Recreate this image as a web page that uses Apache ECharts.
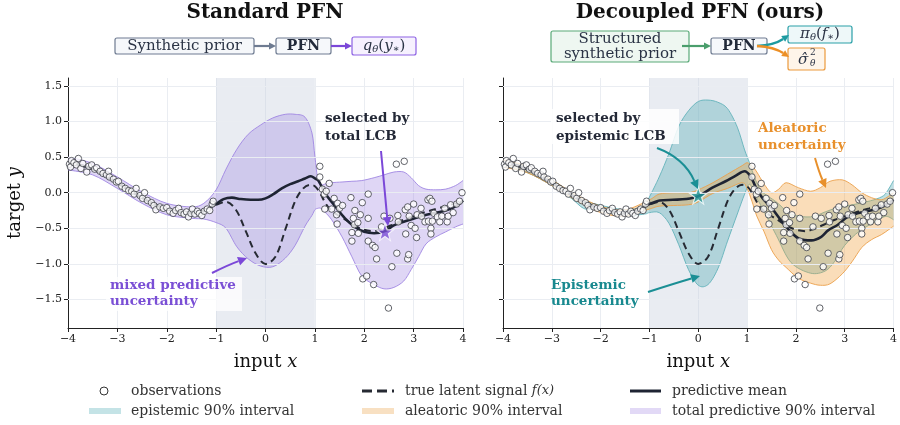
<!DOCTYPE html>
<html><head><meta charset="utf-8">
<script src="https://cdn.jsdelivr.net/npm/echarts@6/dist/echarts.min.js"></script>
<style>html,body{margin:0;padding:0;background:#fff}#c{width:900px;height:425px}</style>
</head><body><div id="c"></div>
<script>
// ---------------- data ----------------
const xTickValues = [-4, -3, -2, -1, 0, 1, 2, 3, 4];
const yTickValues = [-1.5, -1, -0.5, 0, 0.5, 1, 1.5];

const observations = [
[-3.97,0.40],[-3.95,0.36],[-3.93,0.45],[-3.88,0.42],[-3.83,0.39],[-3.79,0.48],[-3.74,0.34],[-3.70,0.41],[-3.62,0.29],[-3.58,0.37],
[-3.52,0.39],[-3.46,0.33],[-3.42,0.35],[-3.35,0.30],[-3.29,0.27],[-3.22,0.25],[-3.18,0.30],[-3.16,0.22],[-3.08,0.19],[-3.02,0.15],
[-2.98,0.16],[-2.91,0.09],[-2.84,0.06],[-2.77,0.03],[-2.71,0.02],[-2.66,-0.02],[-2.62,0.06],[-2.54,-0.04],[-2.49,-0.08],[-2.45,0.0],
[-2.39,-0.11],[-2.31,-0.14],[-2.26,-0.18],[-2.22,-0.24],[-2.14,-0.20],[-2.07,-0.22],[-2.00,-0.21],[-1.94,-0.26],[-1.87,-0.29],[-1.82,-0.25],
[-1.76,-0.22],[-1.71,-0.28],[-1.65,-0.30],[-1.60,-0.27],[-1.56,-0.34],[-1.51,-0.29],[-1.48,-0.23],[-1.43,-0.30],[-1.38,-0.26],[-1.34,-0.29],
[-1.29,-0.32],[-1.24,-0.26],[-1.18,-0.23],[-1.13,-0.25],[-1.08,-0.16],[-1.06,-0.12],
[1.10,0.37],[1.10,0.22],[1.15,0.05],[1.19,-0.02],[1.20,-0.23],[1.23,0.02],[1.29,0.13],[1.34,-0.23],[1.39,-0.08],[1.44,-0.31],
[1.46,-0.15],[1.45,-0.44],[1.50,-0.22],[1.56,-0.18],[1.73,-0.07],[1.75,-0.56],[1.75,-0.68],[1.78,-0.36],[1.81,-0.25],[1.80,-0.45],
[1.87,-0.42],[1.88,-0.57],[1.92,-0.31],[1.96,-0.14],[1.97,-1.21],[2.05,-1.17],[2.08,-0.02],[2.08,-0.36],[2.08,-0.68],[2.17,-0.74],
[2.22,-0.77],[2.19,-1.29],[2.25,-0.93],[2.35,-0.48],[2.40,-0.33],[2.49,-1.62],[2.52,-0.36],[2.56,-1.04],[2.65,0.40],[2.81,0.44],
[2.66,-0.85],[2.68,-0.32],[2.69,-0.41],[2.83,-0.24],[2.88,-0.20],[2.84,-0.58],[2.88,-0.93],[2.90,-0.87],[2.91,-0.33],[2.95,-0.46],
[3.00,-0.16],[3.03,-0.50],[3.06,-0.63],[3.07,-0.31],[3.15,-0.22],[3.16,-0.33],[3.23,-0.41],[3.29,-0.10],[3.30,-0.40],[3.33,-0.08],
[3.35,-0.50],[3.35,-0.58],[3.37,-0.12],[3.38,-0.40],[3.41,-0.29],[3.48,-0.34],[3.53,-0.41],[3.57,-0.33],[3.63,-0.22],[3.68,-0.41],
[3.70,-0.33],[3.75,-0.17],[3.80,-0.28],[3.87,-0.16],[3.93,-0.12],[3.98,0.0]
];

const trueSignal = [
[-4.0,0.41],[-3.75,0.39],[-3.5,0.33],[-3.25,0.24],[-3.0,0.14],[-2.75,0.03],[-2.5,-0.07],[-2.25,-0.16],[-2.0,-0.23],[-1.75,-0.27],
[-1.5,-0.28],[-1.25,-0.25],[-1.0,-0.17],[-0.8,-0.13],[-0.6,-0.24],[-0.4,-0.54],[-0.2,-0.85],[0.0,-1.0],[0.2,-0.9],[0.4,-0.52],
[0.6,-0.12],[0.75,0.05],[0.9,0.11],[1.0,0.09],[1.1,0.0],[1.2,-0.13],[1.3,-0.23],[1.45,-0.31],[1.6,-0.37],[1.8,-0.46],
[2.0,-0.52],[2.2,-0.54],[2.4,-0.50],[2.6,-0.44],[2.8,-0.38],[3.0,-0.33],[3.25,-0.27],[3.5,-0.22],[3.75,-0.17],[4.0,-0.12]
];

const meanStandard = [
[-4.0,0.41],[-3.75,0.39],[-3.5,0.33],[-3.25,0.24],[-3.0,0.14],[-2.75,0.03],[-2.5,-0.07],[-2.25,-0.16],[-2.0,-0.23],[-1.75,-0.27],
[-1.5,-0.28],[-1.25,-0.25],[-1.0,-0.16],[-0.85,-0.09],[-0.68,-0.07],[-0.5,-0.09],[-0.3,-0.10],[-0.15,-0.10],[0.0,-0.08],[0.16,-0.02],
[0.33,0.06],[0.5,0.12],[0.66,0.16],[0.8,0.20],[0.92,0.23],[1.0,0.20],[1.07,0.17],[1.2,0.0],[1.41,-0.19],[1.61,-0.36],
[1.81,-0.48],[2.0,-0.55],[2.2,-0.57],[2.42,-0.54],[2.6,-0.46],[2.93,-0.38],[3.26,-0.31],[3.6,-0.26],[3.8,-0.21],[3.94,-0.15],[4.0,-0.11]
];

const meanDecoupled = [
[-4.0,0.41],[-3.75,0.39],[-3.5,0.33],[-3.25,0.24],[-3.0,0.14],[-2.75,0.03],[-2.5,-0.07],[-2.25,-0.16],[-2.0,-0.23],[-1.75,-0.27],
[-1.5,-0.28],[-1.25,-0.25],[-1.0,-0.16],[-0.79,-0.11],[-0.52,-0.10],[-0.25,-0.09],[0.0,-0.05],[0.29,0.07],[0.56,0.16],[0.77,0.24],
[0.95,0.30],[1.07,0.23],[1.17,0.09],[1.31,-0.07],[1.51,-0.22],[1.71,-0.40],[1.91,-0.56],[2.08,-0.65],[2.32,-0.67],[2.52,-0.62],
[2.66,-0.53],[2.86,-0.45],[3.06,-0.34],[3.26,-0.29],[3.6,-0.24],[3.8,-0.19],[4.0,-0.10]
];

const totalX     = [-4,-3.5,-3,-2.5,-2,-1.5,-1.25,-1,-0.8,-0.58,-0.35,-0.1,0.15,0.4,0.6,0.8,0.94,1.0,1.06,1.12,1.2,1.34,1.55,1.75,1.95,2.2,2.4,2.6,2.8,2.95,3.1,3.25,3.45,3.65,3.85,4.0];
const totalUpper = [0.50,0.41,0.22,0.01,-0.15,-0.20,-0.15,0.04,0.33,0.61,0.82,0.95,1.05,1.10,1.10,1.06,0.84,0.51,0.18,0.11,0.12,0.14,0.15,0.16,0.17,0.21,0.25,0.29,0.29,0.21,0.10,0.05,0.04,0.05,0.10,0.17];
const totalLower = [0.32,0.25,0.06,-0.15,-0.31,-0.36,-0.37,-0.42,-0.50,-0.76,-0.93,-1.03,-1.04,-0.92,-0.74,-0.47,-0.32,-0.24,-0.22,-0.22,-0.27,-0.38,-0.62,-0.90,-1.17,-1.29,-1.35,-1.33,-1.24,-1.08,-0.90,-0.72,-0.62,-0.55,-0.48,-0.44];

const epiX     = [-4,-3.5,-3,-2.6,-2.35,-2.1,-1.5,-1.1,-1.0,-0.8,-0.6,-0.4,-0.2,0,0.2,0.4,0.6,0.8,0.95,1.05,1.15,1.3,1.6,1.9,2.3,2.6,2.8,3.0,3.3,3.6,3.8,3.9,4.0];
const epiUpper = [0.45,0.36,0.18,0.0,-0.10,-0.16,-0.24,-0.18,-0.06,0.22,0.55,0.93,1.15,1.28,1.30,1.27,1.18,0.92,0.60,0.42,0.22,0.02,-0.13,-0.30,-0.34,-0.27,-0.22,-0.19,-0.15,-0.10,-0.04,0.05,0.17];
const epiLower = [0.37,0.28,0.10,-0.08,-0.22,-0.24,-0.32,-0.30,-0.28,-0.28,-0.43,-0.73,-1.08,-1.30,-1.29,-1.07,-0.68,-0.30,-0.02,0.12,-0.02,-0.20,-0.60,-0.98,-1.13,-1.10,-0.96,-0.74,-0.54,-0.42,-0.34,-0.34,-0.38];

const aleX     = [-4,-3.5,-3,-2.5,-2,-1.5,-1.0,-0.8,-0.5,-0.2,0,0.3,0.6,0.9,1.0,1.1,1.2,1.35,1.5,1.65,1.8,2.05,2.3,2.5,2.7,2.95,3.15,3.35,3.55,3.75,3.9,4.0];
const aleUpper = [0.46,0.37,0.18,-0.03,-0.19,-0.24,-0.10,-0.02,0.0,0.0,0.04,0.14,0.26,0.38,0.42,0.38,0.29,0.12,0.0,0.05,0.14,0.07,0.02,0.07,0.16,0.18,0.11,0.0,-0.07,-0.10,-0.05,0.0];
const aleLower = [0.36,0.28,0.10,-0.11,-0.28,-0.33,-0.23,-0.19,-0.18,-0.17,-0.13,-0.01,0.06,0.14,0.06,-0.12,-0.33,-0.55,-0.80,-0.95,-1.05,-1.20,-1.27,-1.30,-1.28,-1.14,-0.97,-0.77,-0.66,-0.59,-0.52,-0.47];

const selectedStandard  = [[2.42, -0.55]];
const selectedDecoupled = [[0.0, -0.04]];
const gapRegion = [-1, 1];

// ---------------- styling ----------------
const FONT = '"DejaVu Serif", serif';
const C = {
  dark:'#232836', mean:'#1e2433', purple:'#7a4fd5', purpleEdge:'#9f86e2', purpleFill:'rgba(150,120,222,0.30)',
  teal:'#18898f', tealEdge:'#62b2ba', tealFill:'rgba(61,160,170,0.33)',
  orange:'#e8902c', orangeEdge:'#eba04c', orangeFill:'rgba(240,160,60,0.36)',
  grid:'#eaedf2', gap:'rgba(196,206,222,0.38)'
};
const STAR = 'path://M12,0 L14.9,8.3 L23.6,8.3 L16.6,13.5 L19.2,21.9 L12,16.8 L4.8,21.9 L7.4,13.5 L0.4,8.3 L9.1,8.3 Z';
const minus = v => (v < 0 ? '\u2212' : '');

// smooth (Catmull-Rom -> cubic bezier) path through pixel points, for rendering only
function smoothSegs(p, t) {
  let d = '';
  for (let i = 0; i < p.length - 1; i++) {
    const p0 = p[Math.max(i - 1, 0)], p1 = p[i], p2 = p[i + 1], p3 = p[Math.min(i + 2, p.length - 1)];
    const c1 = [p1[0] + (p2[0] - p0[0]) * t, p1[1] + (p2[1] - p0[1]) * t];
    const c2 = [p2[0] - (p3[0] - p1[0]) * t, p2[1] - (p3[1] - p1[1]) * t];
    d += ' C' + c1[0] + ',' + c1[1] + ' ' + c2[0] + ',' + c2[1] + ' ' + p2[0] + ',' + p2[1];
  }
  return d;
}
function band(idx, xs, up, lo, fill, edge, z) {
  return {type:'custom', xAxisIndex:idx, yAxisIndex:idx, data:[[xs[0], up[0]]], clip:true, silent:true, z,
    renderItem:(params, api) => {
      const U = xs.map((x, i) => api.coord([x, up[i]]));
      const L = xs.map((x, i) => api.coord([x, lo[i]])).reverse();
      const t = 0.16;
      const fillD = 'M' + U[0][0] + ',' + U[0][1] + smoothSegs(U, t) + ' L' + L[0][0] + ',' + L[0][1] + smoothSegs(L, t) + ' Z';
      const upD = 'M' + U[0][0] + ',' + U[0][1] + smoothSegs(U, t);
      const loD = 'M' + L[0][0] + ',' + L[0][1] + smoothSegs(L, t);
      return {type:'group', children:[
        {type:'path', shape:{pathData:fillD}, style:{fill, stroke:null}},
        {type:'path', shape:{pathData:upD}, style:{fill:null, stroke:edge, lineWidth:0.9}},
        {type:'path', shape:{pathData:loD}, style:{fill:null, stroke:edge, lineWidth:0.9}}
      ]};
    }};
}
function baseSeries(idx) {
  return [
    {type:'line', xAxisIndex:idx, yAxisIndex:idx, data:trueSignal, symbol:'none', silent:true, z:1,
     lineStyle:{opacity:0},
     markLine:{silent:true, symbol:['none','none'], label:{show:false}, animation:false,
       lineStyle:{color:C.grid, width:1, type:'solid'}, emphasis:{disabled:true},
       data:yTickValues.map(v => ({yAxis:v}))}},
    {type:'line', xAxisIndex:idx, yAxisIndex:idx, data:trueSignal, symbol:'none', silent:true, z:2,
     lineStyle:{opacity:0},
     markArea:{silent:true, itemStyle:{color:C.gap}, emphasis:{disabled:true},
       data:[[{xAxis:gapRegion[0]},{xAxis:gapRegion[1]}]]}}
  ];
}
function curves(idx, meanData, starData, starColor) {
  return [
    {type:'line', xAxisIndex:idx, yAxisIndex:idx, data:trueSignal, smooth:0.35, symbol:'none', silent:true, z:5,
     lineStyle:{color:'#262a33', width:2, type:[7,4.5]}},
    {type:'line', xAxisIndex:idx, yAxisIndex:idx, data:meanData, smooth:0.35, symbol:'none', silent:true, z:6,
     lineStyle:{color:C.mean, width:2.6}},
    {type:'scatter', xAxisIndex:idx, yAxisIndex:idx, data:observations, symbol:'circle', symbolSize:6.5, silent:true, z:7,
     itemStyle:{color:'#ffffff', borderColor:'#3c3f46', borderWidth:1}},
    {type:'scatter', xAxisIndex:idx, yAxisIndex:idx, data:starData, symbol:STAR, symbolSize:17, silent:true, z:8,
     itemStyle:{color:starColor, borderColor:'#ffffff', borderWidth:1.2}}
  ];
}

function xAxis(idx) {
  return {type:'value', gridIndex:idx, min:-4, max:4, interval:1,
    name:'{n|input }{i|x}', nameLocation:'middle', nameGap:25,
    nameTextStyle:{rich:{n:{fontFamily:FONT, fontSize:18, color:'#111'}, i:{fontFamily:FONT, fontStyle:'italic', fontSize:18, color:'#111'}}},
    axisLine:{show:true, onZero:false, lineStyle:{color:'#222', width:1}},
    axisTick:{show:true, length:4, lineStyle:{color:'#222'}, customValues:xTickValues},
    axisLabel:{fontFamily:FONT, fontSize:11, color:'#222', margin:6, customValues:xTickValues,
      formatter:v => minus(v) + Math.abs(v)},
    splitLine:{show:true, lineStyle:{color:C.grid, width:1}}};
}
function yAxis(idx, showLabels) {
  const ax = {type:'value', gridIndex:idx, min:-1.9, max:1.61,
    axisLine:{show:true, onZero:false, lineStyle:{color:'#222', width:1}},
    axisTick:{show:true, length:4, lineStyle:{color:'#222'}, customValues:yTickValues},
    axisLabel:{show:showLabels, fontFamily:FONT, fontSize:11, color:'#222', margin:6, customValues:yTickValues,
      formatter:v => minus(v) + Math.abs(v).toFixed(1)},
    splitLine:{show:false}};
  if (showLabels) {
    Object.assign(ax, {name:'{n|target }{i|y}', nameLocation:'middle', nameGap:44,
      nameTextStyle:{rich:{n:{fontFamily:FONT, fontSize:18, color:'#111'}, i:{fontFamily:FONT, fontStyle:'italic', fontSize:18, color:'#111'}}}});
  }
  return ax;
}

// ---------------- graphic helpers ----------------
const G = [];
function txt(x, y, text, opt) {
  G.push({type:'text', z:100, style:Object.assign({x, y, text, font:'13.5px ' + FONT, fill:C.dark,
    align:'left', verticalAlign:'middle'}, opt || {})});
}
function rect(x, y, w, h, fill, stroke, lw, r) {
  G.push({type:'rect', z:99, shape:{x, y, width:w, height:h, r:r || 0},
    style:{fill, stroke:stroke || null, lineWidth:lw || 0}});
}
function arrow(x1, y1, cx, cy, x2, y2, color, lw, hl) {
  const dx = x2 - cx, dy = y2 - cy, L = Math.hypot(dx, dy), ux = dx / L, uy = dy / L;
  const bx = x2 - ux * hl, by = y2 - uy * hl, hw = hl * 0.5;
  G.push({type:'bezierCurve', z:100, shape:{x1, y1, cpx1:cx, cpy1:cy, x2:bx, y2:by},
    style:{stroke:color, lineWidth:lw, fill:null}});
  G.push({type:'polygon', z:100, shape:{points:[[x2, y2], [bx - uy * hw, by + ux * hw], [bx + uy * hw, by - ux * hw]]},
    style:{fill:color}});
}

// titles
txt(265, 13, 'Standard PFN', {font:'bold 20px ' + FONT, fill:'#111', align:'center'});
txt(700, 13, 'Decoupled PFN (ours)', {font:'bold 20px ' + FONT, fill:'#111', align:'center'});

// left diagram
rect(115, 38, 139, 16, '#f5f7fa', '#6e7b91', 1.2, 2);
txt(184.5, 46, 'Synthetic prior', {font:'15px ' + FONT, fill:'#2a3345', align:'center'});
rect(276, 38, 55, 16, '#f6f8fb', '#6e7b91', 1.2, 2);
txt(303.5, 46, 'PFN', {font:'bold 14px ' + FONT, fill:'#222a3a', align:'center'});
arrow(254, 46, 265, 46, 276, 46, '#6e7b91', 2.2, 7);
rect(352, 37, 64, 18, '#f6f1fe', '#8d62e3', 1.2, 2);
arrow(331, 46, 341, 46, 352, 46, '#7b48d8', 2.2, 7);
txt(384, 46, '{i|q}{s|θ}{n|(}{i|y}{s|∗}{n|)}', {align:'center', fill:'#2a3345',
  rich:{i:{fontFamily:FONT, fontStyle:'italic', fontSize:15, lineHeight:18, verticalAlign:'middle'},
        n:{fontFamily:FONT, fontSize:15, lineHeight:18, verticalAlign:'middle'},
        s:{fontFamily:FONT, fontStyle:'italic', fontSize:10, lineHeight:18, padding:[6,0,0,0]}}});

// right diagram
rect(551, 31, 138, 31, '#eef7f1', '#5aaa78', 1.2, 2);
txt(620, 39, 'Structured', {font:'15px ' + FONT, fill:'#2a3345', align:'center'});
txt(620, 54, 'synthetic prior', {font:'15px ' + FONT, fill:'#2a3345', align:'center'});
arrow(682, 46, 696, 46, 711, 46, '#4a9e6c', 2.2, 7);
rect(711, 38, 56, 16, '#f6f8fb', '#6e7b91', 1.2, 2);
txt(739, 46, 'PFN', {font:'bold 14px ' + FONT, fill:'#222a3a', align:'center'});
arrow(757, 46, 774, 45, 789, 35, '#1b9aa0', 2.4, 7);
arrow(757, 46, 774, 47, 789, 57, '#ec8f25', 2.4, 7);
rect(788, 26, 64, 17, '#eef8f9', '#2aa0a8', 1.2, 2);
txt(820, 34.5, '{i|π}{s|θ}{n|(}{i|f}{s|∗}{n|)}', {align:'center', fill:'#2a3345',
  rich:{i:{fontFamily:FONT, fontStyle:'italic', fontSize:15, lineHeight:18, verticalAlign:'middle'},
        n:{fontFamily:FONT, fontSize:15, lineHeight:18, verticalAlign:'middle'},
        s:{fontFamily:FONT, fontStyle:'italic', fontSize:10, lineHeight:18, padding:[6,0,0,0]}}});
rect(788, 48, 37, 22, '#fef5ea', '#eb9a3c', 1.2, 2);
txt(803, 60, 'σ̂', {font:'italic 15px ' + FONT, fill:'#2a3345', align:'center'});
txt(810, 53, '2', {font:'9px ' + FONT, fill:'#2a3345'});
txt(810, 64, 'θ', {font:'italic 9px ' + FONT, fill:'#2a3345'});

// annotations, left panel
txt(325, 118, 'selected by', {font:'bold 13.5px ' + FONT});
txt(325, 136, '{p|total} LCB', {font:'bold 13.5px ' + FONT,
  rich:{p:{fontFamily:FONT, fontWeight:'bold', fontSize:13.5, color:C.purple}}});
arrow(381, 151, 385, 195, 388, 226, '#7b48d8', 2, 9);
rect(106, 277, 136, 34, 'rgba(255,255,255,0.75)');
txt(110, 285, 'mixed predictive', {font:'bold 13.5px ' + FONT, fill:C.purple});
txt(110, 301, 'uncertainty', {font:'bold 13.5px ' + FONT, fill:C.purple});
arrow(212, 273, 228, 265, 247, 258, '#7b48d8', 2, 9);

// annotations, right panel
rect(551, 109, 128, 35, 'rgba(255,255,255,0.85)');
txt(556, 118, 'selected by', {font:'bold 13.5px ' + FONT});
txt(556, 136, '{t|epistemic} LCB', {font:'bold 13.5px ' + FONT,
  rich:{t:{fontFamily:FONT, fontWeight:'bold', fontSize:13.5, color:C.teal}}});
arrow(657, 148, 684, 158, 698, 189, '#1b8f95', 2, 9);
txt(758, 128, 'Aleatoric', {font:'bold 13.5px ' + FONT, fill:C.orange});
txt(758, 145, 'uncertainty', {font:'bold 13.5px ' + FONT, fill:C.orange});
arrow(815, 158, 819, 172, 826, 188, '#e8902c', 2, 9);
txt(551, 285, 'Epistemic', {font:'bold 13.5px ' + FONT, fill:C.teal});
txt(551, 301, 'uncertainty', {font:'bold 13.5px ' + FONT, fill:C.teal});
arrow(648, 292, 676, 283, 700, 276, '#1b8f95', 2, 9);

// legend
G.push({type:'circle', z:100, shape:{cx:104, cy:391, r:4}, style:{fill:'#fff', stroke:'#333', lineWidth:1}});
txt(131, 391, 'observations', {font:'14px ' + FONT, fill:'#333'});
G.push({type:'line', z:100, shape:{x1:362, y1:391, x2:394, y2:391}, style:{stroke:'#262a33', lineWidth:3, lineDash:[10,5]}});
txt(405, 391, 'true latent signal {i|f(x)}', {font:'14px ' + FONT, fill:'#333',
  rich:{i:{fontFamily:FONT, fontStyle:'italic', fontSize:13, color:'#333'}}});
G.push({type:'line', z:100, shape:{x1:630, y1:391, x2:661, y2:391}, style:{stroke:C.mean, lineWidth:3}});
txt(672, 391, 'predictive mean', {font:'14px ' + FONT, fill:'#333'});
rect(89, 408, 32, 6, '#c4e3e6');
txt(131, 411, 'epistemic 90% interval', {font:'14px ' + FONT, fill:'#333'});
rect(362, 408, 32, 6, '#f8e0c2');
txt(405, 411, 'aleatoric 90% interval', {font:'14px ' + FONT, fill:'#333'});
rect(630, 408, 31, 6, '#e2d9f6');
txt(672, 411, 'total predictive 90% interval', {font:'14px ' + FONT, fill:'#333'});

// ---------------- chart ----------------
const chart = echarts.init(document.getElementById('c'), null, {renderer:'canvas'});
chart.setOption({
  animation:false,
  backgroundColor:'#ffffff',
  grid:[{left:68, top:78, width:395, height:250}, {left:503, top:78, width:395, height:250}],
  xAxis:[xAxis(0), xAxis(1)],
  yAxis:[yAxis(0, true), yAxis(1, false)],
  series:[].concat(
    baseSeries(0),
    band(0, totalX, totalUpper, totalLower, C.purpleFill, C.purpleEdge, 3),
    curves(0, meanStandard, selectedStandard, '#7b4fd6'),
    baseSeries(1),
    band(1, epiX, epiUpper, epiLower, C.tealFill, C.tealEdge, 3),
    band(1, aleX, aleUpper, aleLower, C.orangeFill, C.orangeEdge, 4),
    curves(1, meanDecoupled, selectedDecoupled, '#1e9aa0')
  ),
  graphic:{elements:G}
});
</script>
</body></html>
